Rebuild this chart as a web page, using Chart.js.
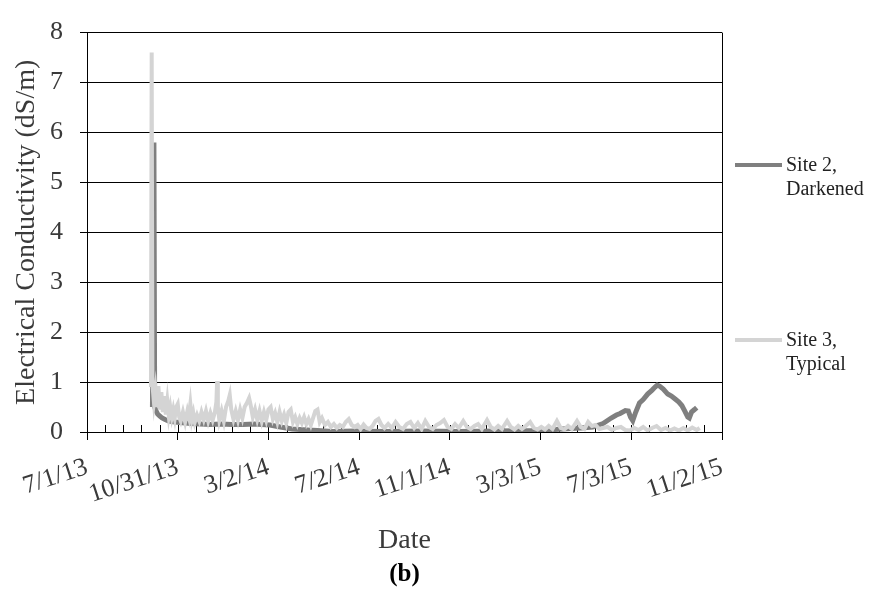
<!DOCTYPE html>
<html><head><meta charset="utf-8">
<script src="https://cdn.jsdelivr.net/npm/chart.js@4"></script>
<style>
html,body{margin:0;padding:0;background:#fff;}
#wrap{position:relative;width:870px;height:597px;overflow:hidden;}
canvas{position:absolute;left:0;top:0;}
.leg{position:absolute;font-family:"Liberation Serif","Times New Roman",serif;font-size:20px;line-height:24px;color:#222;white-space:nowrap;}
.sw{position:absolute;height:4px;}
#cap{position:absolute;left:0;width:809px;top:559px;text-align:center;font:bold 25px "Liberation Serif","Times New Roman",serif;color:#000;}
</style></head><body>
<div id="wrap">
<canvas id="c" width="870" height="597"></canvas>
<div class="sw" style="left:735px;top:163px;width:47px;background:#7f7f7f"></div>
<div class="leg" style="left:786px;top:152px">Site 2,<br>Darkened</div>
<div class="sw" style="left:735px;top:338px;width:47px;background:#d4d4d4"></div>
<div class="leg" style="left:786px;top:327px">Site 3,<br>Typical</div>
<div id="cap">(b)</div>
</div>
<script>
// ---- data (days since 7/1/13) ----
const xTickDays = [0,122,244,366,488,610,732,854];
const xTickLabels = ["7/1/13","10/31/13","3/2/14","7/2/14","11/1/14","3/3/15","7/3/15","11/2/15"];
const yTicks = [0,1,2,3,4,5,6,7,8];

const site2Days = [88,89,90,91,93,95,98,101,105,110,118,125,132,140,152,165,180,195,210,225,235,246,253,260,268,276,286,296,310,320,330,360,400,450,500,550,600,630,650,665,680,694,705,712,717,724,728,731,734,738,743,748,754,760,764,767,770,775,781,786,791,796,800,804,808,810,813,817,820];
const site2Values = [0.5,2.5,5.8,0.5,0.42,0.36,0.32,0.28,0.25,0.22,0.2,0.19,0.18,0.17,0.16,0.15,0.16,0.15,0.15,0.16,0.15,0.14,0.12,0.1,0.08,0.06,0.05,0.04,0.03,0.02,0.01,0.02,0.01,0.02,0.01,0.02,0.03,0.05,0.07,0.08,0.1,0.17,0.28,0.34,0.37,0.43,0.42,0.3,0.23,0.4,0.58,0.65,0.76,0.84,0.9,0.94,0.92,0.86,0.76,0.72,0.66,0.6,0.53,0.42,0.3,0.28,0.4,0.45,0.49];

const site3Days = [86,87,88,90,92,94,96,98,100,102,104,106,108,110,112,114,116,118,120,122,124,126,129,132,135,137,139,141,143,145,148,151,154,157,160,163,166,169,172,174,175,176,178,181,184,187,190,192,194,197,200,203,206,209,212,215,218,220,223,226,229,232,235,238,241,244,247,250,253,256,259,262,265,268,271,274,277,280,283,286,289,292,295,298,301,304,307,310,313,316,320,324,328,332,336,340,344,348,352,356,360,364,368,372,376,380,384,388,392,396,400,405,410,415,420,425,430,435,440,445,450,455,460,465,470,475,480,485,490,495,500,506,511,516,521,526,531,538,543,548,553,558,565,570,575,580,585,590,596,601,606,611,616,621,626,632,637,642,647,652,659,664,669,674,679,684,689,694,700,706,712,718,724,730,736,742,748,754,760,766,772,778,784,790,796,802,808,814,820,824];
const site3Values = [0.9,7.6,0.95,0.6,0.85,0.5,0.92,0.45,0.8,0.4,0.72,0.35,0.62,0.32,0.5,0.3,0.45,0.28,0.5,0.56,0.3,0.22,0.4,0.2,0.42,0.3,0.56,0.25,0.38,0.2,0.34,0.22,0.4,0.25,0.42,0.22,0.38,0.24,0.4,0.6,1.02,0.5,0.24,0.42,0.22,0.5,0.62,0.74,0.45,0.25,0.42,0.24,0.45,0.28,0.5,0.58,0.68,0.55,0.3,0.45,0.25,0.42,0.22,0.4,0.24,0.45,0.5,0.26,0.38,0.2,0.4,0.22,0.35,0.18,0.4,0.45,0.2,0.3,0.16,0.28,0.18,0.3,0.16,0.26,0.14,0.28,0.42,0.45,0.2,0.28,0.14,0.2,0.1,0.16,0.08,0.14,0.1,0.2,0.26,0.14,0.1,0.14,0.06,0.15,0.08,0.06,0.12,0.22,0.26,0.14,0.08,0.16,0.08,0.2,0.1,0.06,0.16,0.2,0.08,0.18,0.06,0.22,0.1,0.06,0.14,0.18,0.24,0.1,0.06,0.16,0.08,0.22,0.1,0.06,0.12,0.16,0.06,0.24,0.1,0.05,0.12,0.06,0.22,0.1,0.05,0.12,0.06,0.12,0.2,0.08,0.05,0.1,0.05,0.12,0.06,0.22,0.08,0.05,0.12,0.06,0.22,0.1,0.06,0.2,0.12,0.14,0.06,0.08,0.1,0.04,0.08,0.1,0.04,0.03,0.08,0.04,0.1,0.03,0.08,0.12,0.04,0.08,0.03,0.07,0.03,0.08,0.03,0.09,0.04,0.08];

const MINOR_PER_MAJOR = 5;
const SERIF = '"Liberation Serif","Times New Roman",serif';
const TEXT = '#3a3a3a';

const frame = {
  id: 'frame',
  beforeDatasetsDraw(chart) {
    const {ctx, chartArea, scales: {x}} = chart;
    ctx.save();
    ctx.strokeStyle = '#000';
    ctx.lineWidth = 1;
    const step = (xTickDays[1] - xTickDays[0]) / MINOR_PER_MAJOR;
    const n = Math.round((xTickDays[xTickDays.length - 1] - xTickDays[0]) / step);
    for (let i = 0; i <= n; i++) {
      const px = Math.round(x.getPixelForValue(xTickDays[0] + i * step)) + 0.5;
      ctx.beginPath();
      ctx.moveTo(px, chartArea.bottom);
      ctx.lineTo(px, chartArea.bottom - 7);
      ctx.stroke();
    }
    const rx = Math.round(chartArea.right) + 0.5;
    ctx.beginPath();
    ctx.moveTo(rx, chartArea.top);
    ctx.lineTo(rx, chartArea.bottom);
    ctx.stroke();
    ctx.restore();
  }
};

new Chart(document.getElementById('c'), {
  type: 'line',
  data: {
    datasets: [
      {
        label: 'Site 2, Darkened',
        data: site2Days.map((d, i) => ({x: d, y: site2Values[i]})),
        borderColor: '#7f7f7f', borderWidth: 5, pointRadius: 0, fill: false, tension: 0, order: 1
      },
      {
        label: 'Site 3, Typical',
        data: site3Days.map((d, i) => ({x: d, y: site3Values[i]})),
        borderColor: '#d4d4d4', borderWidth: 4, pointRadius: 0, fill: false, tension: 0, order: 0
      }
    ]
  },
  options: {
    responsive: false,
    animation: false,
    devicePixelRatio: 1,
    layout: {padding: {left: 0, top: 22, right: 148, bottom: 40}},
    plugins: {legend: {display: false}, tooltip: {enabled: false}},
    scales: {
      x: {
        type: 'linear',
        min: xTickDays[0], max: xTickDays[xTickDays.length - 1],
        afterBuildTicks: s => { s.ticks = xTickDays.map(v => ({value: v})); },
        afterFit: s => { s.height = 125; },
        ticks: {
          autoSkip: false, minRotation: 18, maxRotation: 18, padding: 12,
          font: {family: SERIF, size: 26}, color: TEXT,
          callback: v => { const i = xTickDays.indexOf(v); return i >= 0 ? xTickLabels[i] : ''; }
        },
        grid: {drawOnChartArea: false, tickLength: 8, color: '#000'},
        border: {color: '#000'},
        title: {display: true, text: 'Date', font: {family: SERIF, size: 28}, color: TEXT, padding: 0}
      },
      y: {
        min: 0, max: 8,
        afterBuildTicks: s => { s.ticks = yTicks.map(v => ({value: v})); },
        afterFit: s => { s.width = 87; },
        ticks: {padding: 17, font: {family: SERIF, size: 26}, color: TEXT},
        grid: {color: '#000', tickLength: 7},
        border: {color: '#000'},
        title: {display: true, text: 'Electrical Conductivity (dS/m)', font: {family: SERIF, size: 28}, color: TEXT, padding: {top: 10, bottom: 0}}
      }
    }
  },
  plugins: [frame]
});
</script>
</body></html>
